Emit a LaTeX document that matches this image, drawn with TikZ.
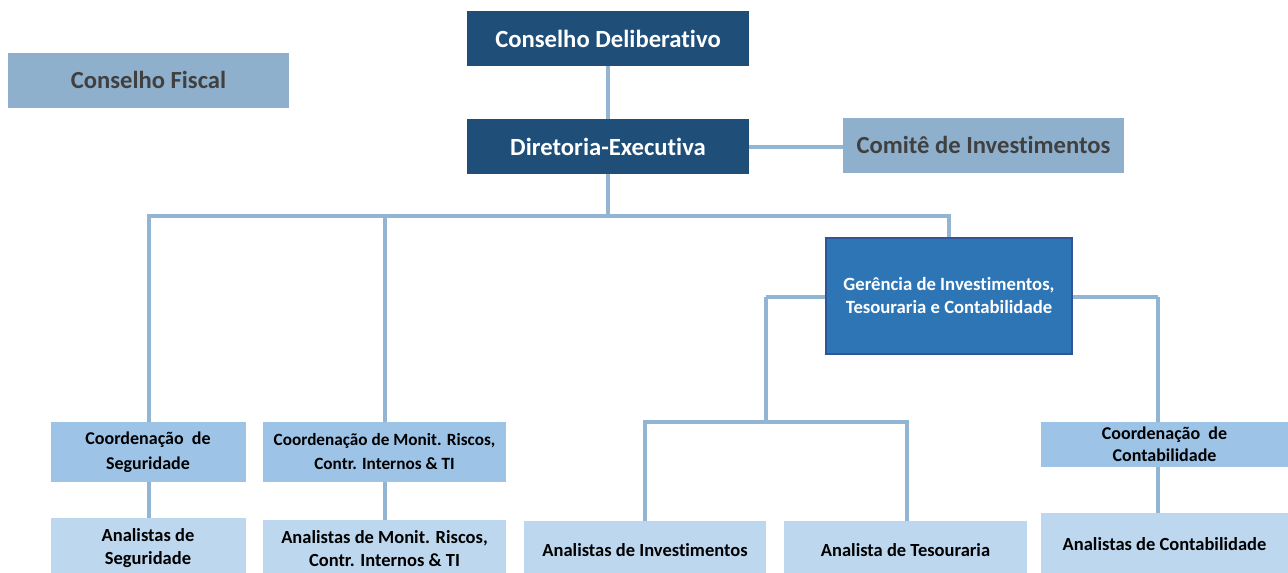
\documentclass[tikz,border=0pt]{standalone}
\usepackage{fontspec}
\setmainfont[Ligatures={NoCommon}]{Carlito}
\usetikzlibrary{backgrounds}
\definecolor{navy}{HTML}{1F4E79}
\definecolor{greyblue}{HTML}{8FB0CC}
\definecolor{midblue}{HTML}{2E75B6}
\definecolor{midborder}{HTML}{2F5597}
\definecolor{coordblue}{HTML}{9DC3E6}
\definecolor{analblue}{HTML}{BDD7EE}
\definecolor{linecol}{HTML}{93B5D4}
\definecolor{darktext}{HTML}{404040}
\tikzset{
  x=1pt, y=-1pt,
  box/.style={rectangle, inner sep=0pt, align=center, font=\bfseries},
  topbox/.style={box, fill=navy, text=white, minimum width=282pt, minimum height=55pt, font=\fontsize{24.7}{28}\selectfont\bfseries},
  sidebox/.style={box, fill=greyblue, text=darktext, minimum width=281pt, minimum height=55pt, font=\fontsize{24.6}{28}\selectfont\bfseries},
  gerbox/.style={box, fill=midblue, draw=midborder, line width=1.2pt, text=white, minimum width=246pt, minimum height=116pt, font=\fontsize{18.7}{23}\selectfont\bfseries},
  coordbox/.style={box, fill=coordblue, text=black, minimum height=60pt, font=\fontsize{17.2}{24}\selectfont\bfseries},
  analbox/.style={box, fill=analblue, text=black, font=\fontsize{18.5}{23}\selectfont\bfseries},
  conn/.style={draw=linecol, line width=4pt}
}
\begin{document}
\begin{tikzpicture}
\useasboundingbox (0,0) rectangle (1288,573);
\clip (0,0) rectangle (1288,573);
% top level
\node[topbox] (cd) at (608,38.5) {Conselho Deliberativo};
\node[topbox] (de) at (608,146.5) {Diretoria-Executiva};
\node[sidebox] (cf) at (148.5,80) {Conselho Fiscal};
\node[sidebox] (ci) at (983.5,145) {Comitê de Investimentos};
\node[gerbox] (ger) at (949,296) {Gerência de Investimentos,\\Tesouraria e Contabilidade};
% coordinations
\node[coordbox, minimum width=195pt, font=\fontsize{18}{25}\selectfont\bfseries] (cs) at (148,452) {Coordenação\ \ de\\Seguridade};
\node[coordbox, minimum width=243pt] (cm) at (384.5,452) {Coordenação de Monit. Riscos,\\Contr. Internos \& TI};
\node[coordbox, minimum width=247pt, minimum height=45pt, font=\fontsize{18}{22}\selectfont\bfseries] (cc) at (1164.5,444.5) {Coordenação\ \ de\\Contabilidade};
% analysts
\node[analbox, minimum width=195pt, minimum height=60pt] (as) at (148,548) {Analistas de\\Seguridade};
\node[analbox, minimum width=243pt, minimum height=58pt] (am) at (384.5,549) {Analistas de Monit. Riscos,\\Contr. Internos \& TI};
\node[analbox, minimum width=242pt, minimum height=58pt] (ai) at (645,550) {Analistas de Investimentos};
\node[analbox, minimum width=243pt, minimum height=58pt] (at) at (905.5,550) {Analista de Tesouraria};
\node[analbox, minimum width=247pt, minimum height=62pt] (ac) at (1164.5,544) {Analistas de Contabilidade};
% junction coordinates
\coordinate (bus) at (608,216);
\coordinate (gl) at (766,297);
\coordinate (gr) at (1158,297);
\coordinate (bk) at (766,422);
\begin{scope}[on background layer]
\fill[white] (0,0) rectangle (1288,573);
\draw[conn] (cd) -- (de);
\draw[conn] (de.east) -- (de.east -| ci.west);
\draw[conn] (de.south) -- (bus);
\draw[conn] (cs.north -| 149,0) |- (bus) -| (ger.north);
\draw[conn] (cm.north) -- (cm.north |- bus);
\draw[conn] (cs.south -| 149,0) -- (as.north -| 149,0);
\draw[conn] (cm) -- (am);
\draw[conn] (gl) -- (gr);
\draw[conn] (gl) -- (bk);
\draw[conn] (ai.north) |- (bk) -| (at.north -| 907,0);
\draw[conn] (gr) -- (cc.north -| gr);
\draw[conn] (cc.south -| gr) -- (ac.north -| gr);
\end{scope}
\end{tikzpicture}
\end{document}
